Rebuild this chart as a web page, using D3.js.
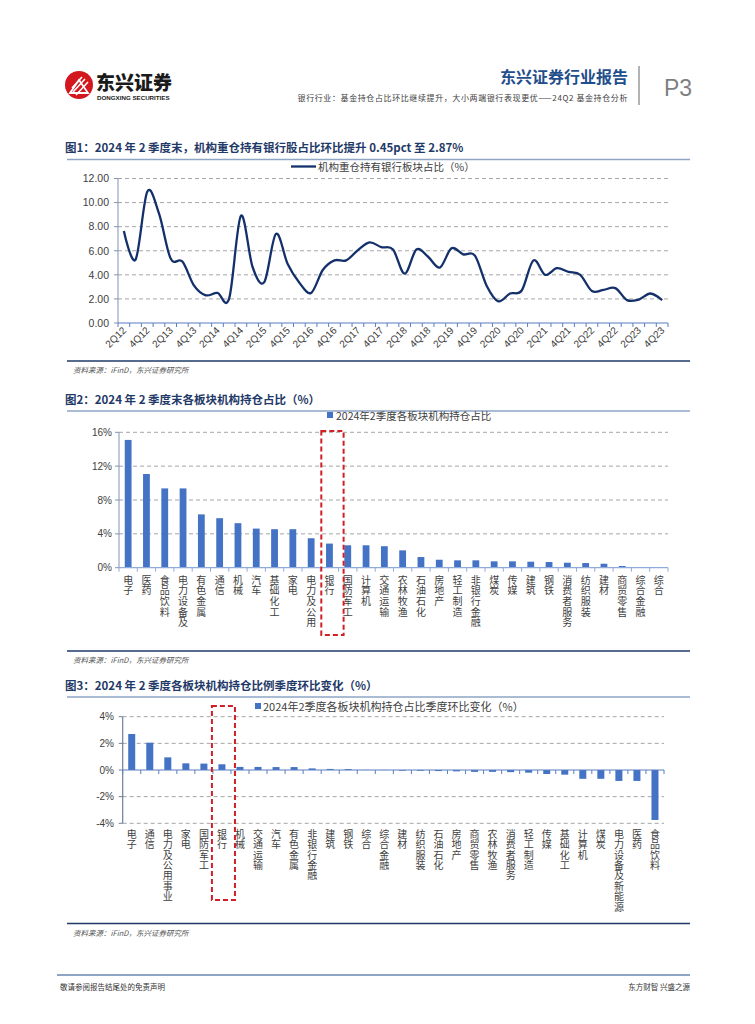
<!DOCTYPE html>
<html><head><meta charset="utf-8">
<script src="https://cdn.jsdelivr.net/npm/d3@7"></script>
<style>body{margin:0;background:#fff} svg{display:block}</style>
</head><body>
<script>
// ---------- DATA ----------
const quarters = ["2Q12","3Q12","4Q12","1Q13","2Q13","3Q13","4Q13","1Q14","2Q14","3Q14","4Q14","1Q15","2Q15","3Q15","4Q15","1Q16","2Q16","3Q16","4Q16","1Q17","2Q17","3Q17","4Q17","1Q18","2Q18","3Q18","4Q18","1Q19","2Q19","3Q19","4Q19","1Q20","2Q20","3Q20","4Q20","1Q21","2Q21","3Q21","4Q21","1Q22","2Q22","3Q22","4Q22","1Q23","2Q23","3Q23","4Q23"];
const bankShare = [7.65,5.26,10.9,9.1,5.35,5.1,3.1,2.3,2.5,2.05,8.9,4.65,3.4,7.4,4.9,3.35,2.5,4.4,5.2,5.2,6.05,6.7,6.3,6.1,4.1,6.1,5.5,4.6,6.2,5.7,5.6,3.1,1.8,2.45,2.7,5.2,4.0,4.55,4.25,4.0,2.65,2.75,2.9,1.9,1.95,2.45,1.9];
const yTicks1 = [0,2,4,6,8,10,12];

const sectors2 = ["电子","医药","食品饮料","电力设备及新能源","有色金属","通信","机械","汽车","基础化工","家电","电力及公用事业","银行","国防军工","计算机","交通运输","农林牧渔","石油石化","房地产","轻工制造","非银行金融","煤炭","传媒","建筑","钢铁","消费者服务","纺织服装","建材","商贸零售","综合金融","综合"];
const share2 = [15.1,11.07,9.37,9.37,6.3,5.85,5.26,4.62,4.55,4.55,3.48,2.85,2.65,2.65,2.54,2.05,1.26,0.94,0.87,0.87,0.75,0.75,0.71,0.67,0.59,0.55,0.47,0.2,0.04,0.01];
const yTicks2 = [0,4,8,12,16];

const sectors3 = ["电子","通信","电力及公用事业","家电","国防军工","银行","机械","交通运输","汽车","有色金属","非银行金融","建筑","钢铁","综合","综合金融","建材","纺织服装","石油石化","房地产","商贸零售","农林牧渔","消费者服务","轻工制造","传媒","基础化工","计算机","煤炭","电力设备及新能源","医药","食品饮料"];
const change3 = [2.7,2.05,0.95,0.5,0.48,0.43,0.23,0.23,0.22,0.22,0.12,0.08,0.07,0.01,-0.01,-0.05,-0.06,-0.08,-0.1,-0.14,-0.14,-0.16,-0.2,-0.3,-0.35,-0.66,-0.66,-0.82,-0.82,-3.75];
const yTicks3 = [-4,-2,0,2,4];

// ---------- STYLE ----------
const CJK = "'Noto Sans CJK SC','Noto Sans',sans-serif";
const LAT = "'Liberation Sans',Arial,sans-serif";
const NAVY = "#1F3A68";
const BAR = "#4472C4";
const GRID = "#A6A6A6";

const svg = d3.select("body").append("svg").attr("width",755).attr("height",1024);

// ---------- HEADER ----------
const logo = svg.append("g");
logo.append("circle").attr("cx",79).attr("cy",85).attr("r",14).attr("fill","#D2171E");
[[-7,3,3,-8],[-6,7,6,-6],[-3,10,9,-3]].forEach(d=>{
  logo.append("line").attr("x1",79+d[0]).attr("y1",85+d[1]).attr("x2",79+d[2]).attr("y2",85+d[3]).attr("stroke","#fff").attr("stroke-width",1.6);
});
logo.append("path").attr("d","M70,93 L79,80 L88,93 Z").attr("fill","none").attr("stroke","#fff").attr("stroke-width",1.8);
svg.append("text").attr("x",96).attr("y",89.5).attr("font-family",CJK).attr("font-weight",900).attr("font-size",19).attr("fill","#1a1a1a").text("东兴证券");
svg.append("text").attr("x",97).attr("y",99.5).attr("font-family",LAT).attr("font-weight",700).attr("font-size",6.2).attr("fill","#1a1a1a").text("DONGXING SECURITIES");
svg.append("text").attr("x",628).attr("y",83).attr("text-anchor","end").attr("font-family",CJK).attr("font-weight",700).attr("font-size",16).attr("fill","#1F4E8C").text("东兴证券行业报告");
svg.append("text").attr("x",628).attr("y",101).attr("text-anchor","end").attr("font-family",CJK).attr("font-size",8).attr("letter-spacing",0.6).attr("fill","#404040").text("银行行业：基金持仓占比环比继续提升，大小两端银行表现更优——24Q2 基金持仓分析");
svg.append("line").attr("x1",639).attr("x2",639).attr("y1",66).attr("y2",105).attr("stroke","#9a9a9a").attr("stroke-width",1.5);
svg.append("text").attr("x",664).attr("y",96).attr("font-family",LAT).attr("font-size",23).attr("fill","#7F7F7F").text("P3");

// helpers
function sectionTitle(y, txt){
  svg.append("text").attr("x",65).attr("y",y).attr("font-family",CJK).attr("font-weight",700).attr("font-size",11.5).attr("fill",NAVY).text(txt);
}
function sepLine(y, color, w){
  svg.append("line").attr("x1",67).attr("x2",690).attr("y1",y).attr("y2",y).attr("stroke",color).attr("stroke-width",w);
}
function source(y){
  svg.append("text").attr("x",73).attr("y",y).attr("font-family",CJK).attr("font-style","italic").attr("font-size",7.5).attr("fill","#555").text("资料来源：iFinD，东兴证券研究所");
}
// stacked (one character per row) category label
function vLabel(g, x, yTop, txt, pitch, size){
  const t = g.append("text").attr("font-family",CJK).attr("font-size",size).attr("fill","#404040").attr("text-anchor","middle");
  Array.from(txt).forEach((c,i)=>{
    t.append("tspan").attr("x",x).attr("y",yTop + size*0.88 + i*pitch).text(c);
  });
}

// ---------- CHART 1 ----------
sectionTitle(152, "图1：2024 年 2 季度末，机构重仓持有银行股占比环比提升 0.45pct  至 2.87%");
sepLine(159.5, "#8EA6C4", 1.5);
{
  const g = svg.append("g");
  const x = d3.scaleBand().domain(quarters).range([118,668]).padding(0);
  const y = d3.scaleLinear().domain([0,12]).range([323,178.5]);
  g.selectAll(".gl").data(yTicks1.filter(d=>d>0)).join("line")
    .attr("x1",118).attr("x2",668).attr("y1",d=>y(d)).attr("y2",d=>y(d))
    .attr("stroke",GRID).attr("stroke-width",1).attr("stroke-dasharray","4,3");
  g.append("line").attr("x1",118).attr("x2",118).attr("y1",y(12)).attr("y2",y(0)).attr("stroke","#7F93B5").attr("stroke-width",1);
  g.selectAll(".yt").data(yTicks1).join("line").attr("x1",114).attr("x2",118).attr("y1",d=>y(d)).attr("y2",d=>y(d)).attr("stroke","#7F93B5");
  g.selectAll(".yl").data(yTicks1).join("text").attr("x",109).attr("y",d=>y(d)+3.8).attr("text-anchor","end")
    .attr("font-family",LAT).attr("font-size",10.5).attr("fill","#404040").text(d=>d.toFixed(2));
  g.append("line").attr("x1",118).attr("x2",668).attr("y1",y(0)).attr("y2",y(0)).attr("stroke","#5B7FC0").attr("stroke-width",1.2);
  const bounds = quarters.map(q=>x(q)).concat([668]);
  g.selectAll(".xt").data(bounds).join("line").attr("x1",d=>d).attr("x2",d=>d).attr("y1",y(0)).attr("y2",y(0)+4).attr("stroke","#5B7FC0");
  g.selectAll(".xl").data(quarters.filter((q,i)=>i%2===0)).join("text")
    .attr("transform",d=>`translate(${x(d)+x.bandwidth()/2+3},${y(0)+8}) rotate(-45)`)
    .attr("text-anchor","end").attr("font-family",LAT).attr("font-size",10).attr("fill","#404040").text(d=>d);
  const line = d3.line().x((d,i)=>x(quarters[i])+x.bandwidth()/2).y(d=>y(d)).curve(d3.curveCatmullRom.alpha(0));
  g.append("path").datum(bankShare).attr("d",line).attr("fill","none").attr("stroke","#14306B").attr("stroke-width",2.3);
  g.append("line").attr("x1",291).attr("x2",316).attr("y1",166.5).attr("y2",166.5).attr("stroke","#14306B").attr("stroke-width",2.3);
  g.append("text").attr("x",318).attr("y",170.5).attr("font-family",CJK).attr("font-size",10.5).attr("fill","#404040").text("机构重仓持有银行板块占比（%）");
}
sepLine(361, NAVY, 1.5);
source(373);

// ---------- CHART 2 ----------
sectionTitle(404, "图2：2024 年 2 季度末各板块机构持仓占比（%）");
sepLine(411, "#8EA6C4", 1.5);
{
  const g = svg.append("g");
  const x = d3.scaleBand().domain(sectors2).range([119,668]).padding(0);
  const y = d3.scaleLinear().domain([0,16]).range([567.7,432.3]);
  g.selectAll(".gl").data(yTicks2.filter(d=>d>0)).join("line")
    .attr("x1",119).attr("x2",668).attr("y1",d=>y(d)).attr("y2",d=>y(d))
    .attr("stroke",GRID).attr("stroke-width",1).attr("stroke-dasharray","4,3");
  g.append("line").attr("x1",119).attr("x2",119).attr("y1",y(16)).attr("y2",y(0)).attr("stroke","#7F93B5");
  g.selectAll(".yt").data(yTicks2).join("line").attr("x1",115).attr("x2",119).attr("y1",d=>y(d)).attr("y2",d=>y(d)).attr("stroke","#7F93B5");
  g.selectAll(".yl").data(yTicks2).join("text").attr("x",112).attr("y",d=>y(d)+3.5).attr("text-anchor","end")
    .attr("font-family",LAT).attr("font-size",10).attr("fill","#404040").text(d=>d+"%");
  const bw = 6.8;
  g.selectAll(".bar").data(share2).join("rect")
    .attr("x",(d,i)=>x(sectors2[i])+x.bandwidth()/2-bw/2).attr("width",bw)
    .attr("y",d=>y(d)).attr("height",d=>y(0)-y(d)).attr("fill",BAR);
  g.append("line").attr("x1",119).attr("x2",668).attr("y1",y(0)).attr("y2",y(0)).attr("stroke","#8FAADC").attr("stroke-width",1.2);
  const bounds = sectors2.map(s=>x(s)).concat([668]);
  g.selectAll(".xt").data(bounds).join("line").attr("x1",d=>d).attr("x2",d=>d).attr("y1",y(0)).attr("y2",y(0)+4).attr("stroke","#8FAADC");
  sectors2.forEach(s=>vLabel(g, x(s)+x.bandwidth()/2, 575, s.slice(0,5), 10.6, 10));
  const bx = x("银行");
  g.append("rect").attr("x",bx+1).attr("y",431).attr("width",x.bandwidth()+4).attr("height",204)
    .attr("fill","none").attr("stroke","#D21F26").attr("stroke-width",2).attr("stroke-dasharray","5,3");
  g.append("rect").attr("x",327).attr("y",412).attr("width",6).attr("height",6).attr("fill",BAR);
  g.append("text").attr("x",336).attr("y",419.5).attr("font-family",CJK).attr("font-size",10.5).attr("fill","#404040").text("2024年2季度各板块机构持仓占比");
}
sepLine(651, NAVY, 1.5);
source(663);

// ---------- CHART 3 ----------
sectionTitle(690, "图3：2024 年 2 季度各板块机构持仓比例季度环比变化（%）");
sepLine(697, "#8EA6C4", 1.5);
{
  const g = svg.append("g");
  const x = d3.scaleBand().domain(sectors3).range([122.7,664]).padding(0);
  const y = d3.scaleLinear().domain([-4,4]).range([823.3,716.7]);
  g.selectAll(".gl").data(yTicks3.filter(d=>d!==0)).join("line")
    .attr("x1",122.7).attr("x2",664).attr("y1",d=>y(d)).attr("y2",d=>y(d))
    .attr("stroke",GRID).attr("stroke-width",1).attr("stroke-dasharray","4,3");
  g.append("line").attr("x1",122.7).attr("x2",122.7).attr("y1",y(4)).attr("y2",y(-4)).attr("stroke","#6F7F99").attr("stroke-width",1.2);
  g.selectAll(".yt").data(yTicks3).join("line").attr("x1",118.7).attr("x2",122.7).attr("y1",d=>y(d)).attr("y2",d=>y(d)).attr("stroke","#6F7F99");
  g.selectAll(".yl").data(yTicks3).join("text").attr("x",114).attr("y",d=>y(d)+3.5).attr("text-anchor","end")
    .attr("font-family",LAT).attr("font-size",10).attr("fill","#404040").text(d=>d+"%");
  const bw = 7;
  g.selectAll(".bar").data(change3).join("rect")
    .attr("x",(d,i)=>x(sectors3[i])+x.bandwidth()/2-bw/2).attr("width",bw)
    .attr("y",d=>y(Math.max(0,d))).attr("height",d=>Math.abs(y(d)-y(0))).attr("fill",BAR);
  g.append("line").attr("x1",122.7).attr("x2",664).attr("y1",y(0)).attr("y2",y(0)).attr("stroke","#5B7FC0").attr("stroke-width",1.2);
  const bounds = sectors3.map(s=>x(s)).concat([664]);
  g.selectAll(".xt").data(bounds).join("line").attr("x1",d=>d).attr("x2",d=>d).attr("y1",y(0)).attr("y2",y(0)+4).attr("stroke","#5B7FC0");
  sectors3.forEach(s=>vLabel(g, x(s)+x.bandwidth()/2, 829, s, 10.4, 10));
  const bx = x("银行");
  g.append("rect").attr("x",bx-1).attr("y",706).attr("width",x.bandwidth()+5).attr("height",194)
    .attr("fill","none").attr("stroke","#D21F26").attr("stroke-width",2).attr("stroke-dasharray","5,3");
  g.append("rect").attr("x",255).attr("y",703).attr("width",6).attr("height",6).attr("fill",BAR);
  g.append("text").attr("x",263).attr("y",710.5).attr("font-family",CJK).attr("font-size",11).attr("fill","#404040").text("2024年2季度各板块机构持仓占比季度环比变化（%）");
}
sepLine(923.5, NAVY, 1.5);
source(936);

// ---------- FOOTER ----------
svg.append("line").attr("x1",57).attr("x2",690).attr("y1",975).attr("y2",975).attr("stroke","#8EA6C4").attr("stroke-width",2);
svg.append("text").attr("x",60).attr("y",990).attr("font-family",CJK).attr("font-size",7.5).attr("fill","#333").text("敬请参阅报告结尾处的免责声明");
svg.append("text").attr("x",690).attr("y",990).attr("text-anchor","end").attr("font-family",CJK).attr("font-size",7.5).attr("fill","#333").text("东方财智  兴盛之源");
</script>
</body></html>
